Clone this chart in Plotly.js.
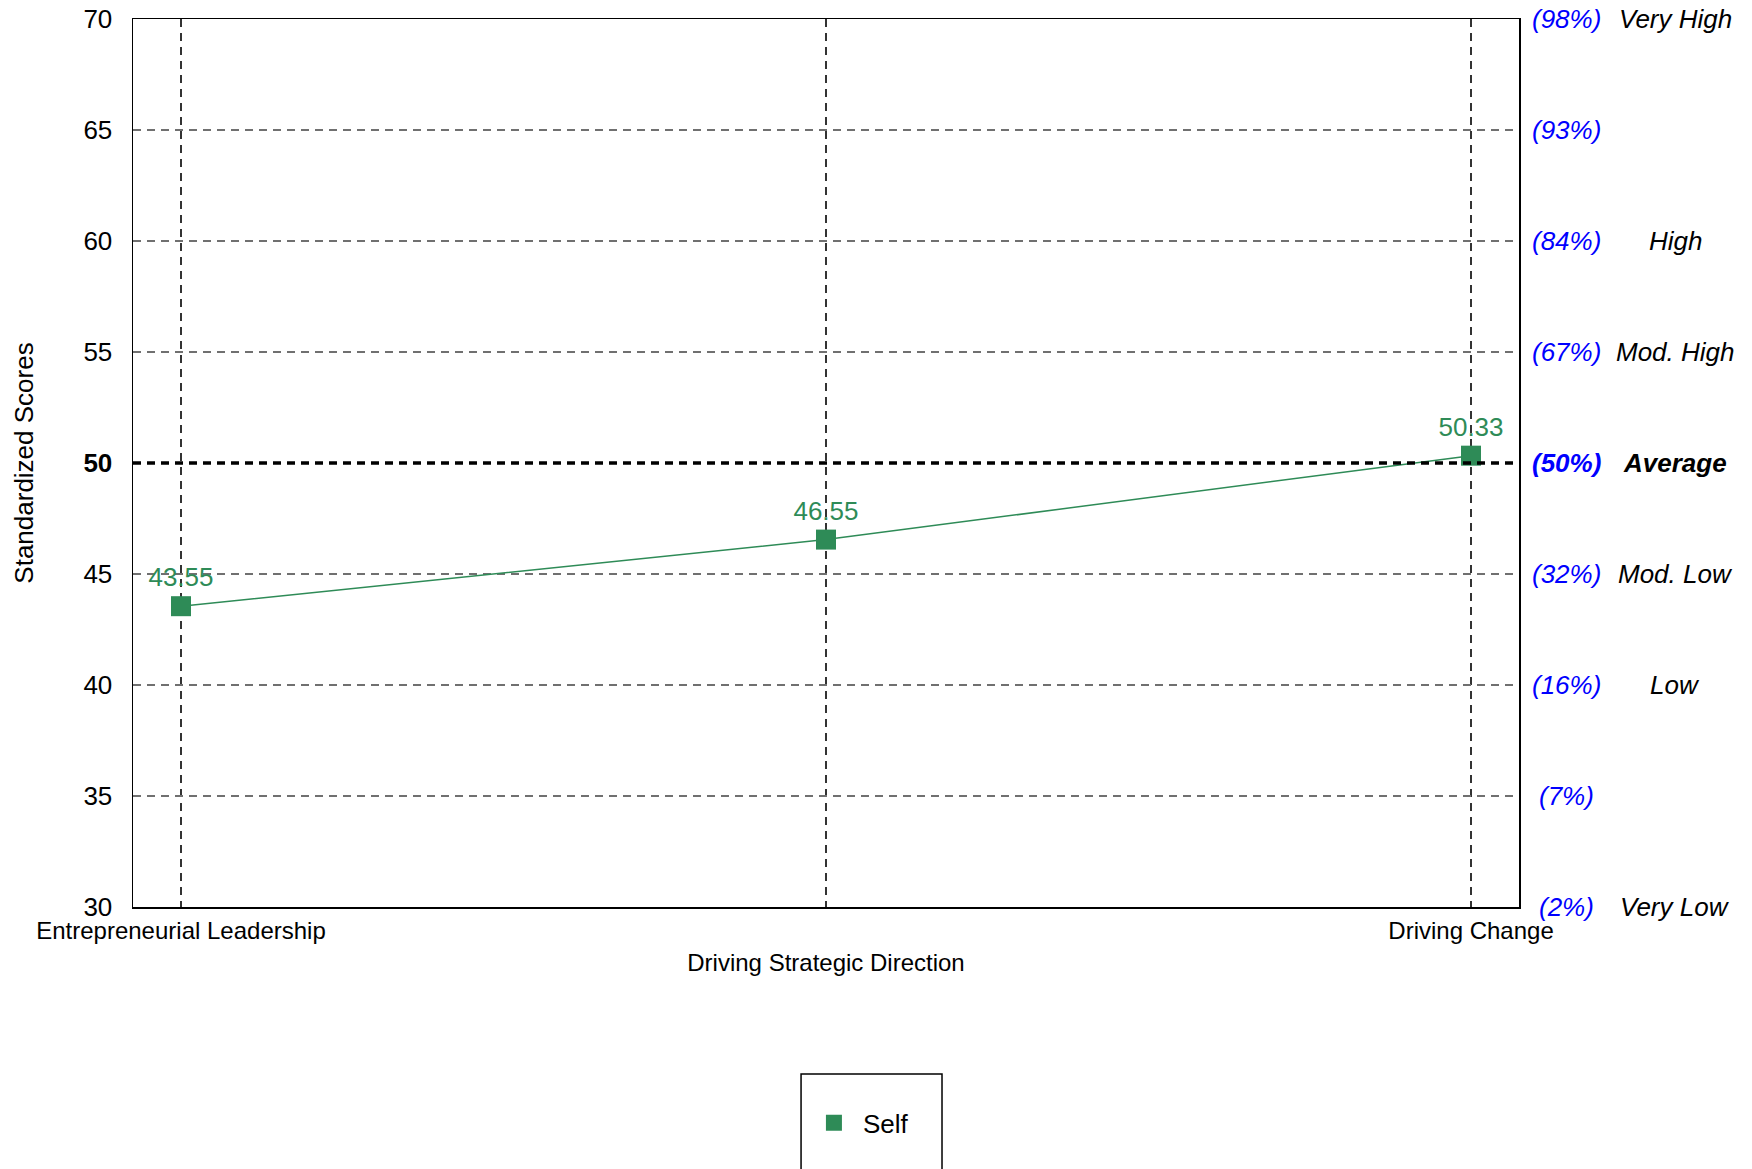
<!DOCTYPE html>
<html>
<head>
<meta charset="utf-8">
<script src="https://cdn.plot.ly/plotly-3.0.1.min.js"></script>
<style>html,body{margin:0;padding:0;background:#fff;}#chart{width:1752px;height:1169px;}</style>
</head>
<body>
<div id="chart"></div>
<script>
// ---- data ----
const categories = ["Entrepreneurial Leadership", "Driving Strategic Direction", "Driving Change"];
const categoryTickText = ["Entrepreneurial Leadership", "<br>Driving Strategic Direction", "Driving Change"];
const selfScores = [43.55, 46.55, 50.33];
const selfLabels = ["43.55", "46.55", "50.33"];
const yTickVals = [30, 35, 40, 45, 50, 55, 60, 65, 70];
const yTickText = ["30", "35", "40", "45", "<b>50</b>", "55", "60", "65", "70"];
const percentileLabels = ["(2%)", "(7%)", "(16%)", "(32%)", "(50%)", "(67%)", "(84%)", "(93%)", "(98%)"];
const levelLabels = ["Very Low", "", "Low", "Mod. Low", "Average", "Mod. High", "High", "", "Very High"];
const averageScore = 50;
const seriesName = "Self";

const GREEN = "#2E8B57";
const FONT = "'Liberation Sans', Arial, sans-serif";
const xIdx = categories.map((c, i) => i);

const traces = [
  {
    x: xIdx, y: selfScores, type: "scatter", mode: "lines",
    line: {color: GREEN, width: 1.5}, showlegend: false, hoverinfo: "skip"
  },
  {
    x: xIdx, y: selfScores, type: "scatter", mode: "markers+text",
    name: seriesName,
    marker: {symbol: "square", size: 20, color: GREEN},
    text: selfLabels, textposition: "top center",
    textfont: {family: FONT, size: 26, color: GREEN},
    showlegend: true
  }
];

const annotations = [];
yTickVals.forEach((v, i) => {
  const bold = v === averageScore;
  annotations.push({
    xref: "paper", yref: "y", x: 1.0346, y: v, xanchor: "center", yanchor: "middle",
    text: bold ? "<b><i>" + percentileLabels[i] + "</i></b>" : "<i>" + percentileLabels[i] + "</i>",
    showarrow: false, font: {family: FONT, size: 26, color: "#0000FF"}
  });
  if (levelLabels[i]) {
    annotations.push({
      xref: "paper", yref: "y", x: 1.1126, y: v, xanchor: "center", yanchor: "middle",
      text: bold ? "<b><i>" + levelLabels[i] + "</i></b>" : "<i>" + levelLabels[i] + "</i>",
      showarrow: false, font: {family: FONT, size: 26, color: "#000000"}
    });
  }
});

const layout = {
  width: 1752, height: 1169,
  margin: {l: 133, r: 233, t: 19, b: 262, pad: 0},
  paper_bgcolor: "#fff", plot_bgcolor: "#fff",
  font: {family: FONT, color: "#000"},
  xaxis: {
    range: [-0.0744, 2.0744],
    tickmode: "array", tickvals: xIdx, ticktext: categoryTickText,
    tickfont: {family: FONT, size: 24, color: "#000"},
    ticks: "", ticklabelstandoff: 2,
    showgrid: true, gridcolor: "#333", gridwidth: 1.3, griddash: "8px,6px",
    showline: true, linecolor: "#000", linewidth: 1.5, mirror: true,
    zeroline: false
  },
  yaxis: {
    range: [30, 70],
    tickmode: "array", tickvals: yTickVals, ticktext: yTickText,
    tickfont: {family: FONT, size: 26, color: "#000"},
    ticks: "", ticklabelstandoff: 14,
    showgrid: true, gridcolor: "#707070", gridwidth: 1.3, griddash: "8px,6px",
    showline: true, linecolor: "#000", linewidth: 1.5, mirror: true,
    zeroline: false,
    title: {text: "Standardized Scores", font: {family: FONT, size: 26, color: "#000"}, standoff: 42}
  },
  shapes: [
    {type: "line", xref: "paper", yref: "y", x0: 0, x1: 1, y0: averageScore, y1: averageScore,
     line: {color: "#000", width: 3.5, dash: "8px,6px"}, layer: "above"},
    {type: "rect", xref: "paper", yref: "paper", x0: 0.482, x1: 0.5837, y0: -0.1881, y1: -0.32,
     line: {color: "#000", width: 1.5}, fillcolor: "rgba(0,0,0,0)"}
  ],
  annotations: annotations,
  legend: {
    x: 0.4848, y: -0.2432, xanchor: "left", yanchor: "middle",
    bgcolor: "rgba(0,0,0,0)", borderwidth: 0, itemwidth: 48,
    font: {family: FONT, size: 26, color: "#000"}
  },
  showlegend: true
};

Plotly.newPlot("chart", traces, layout, {displayModeBar: false, staticPlot: true});
</script>
</body>
</html>
